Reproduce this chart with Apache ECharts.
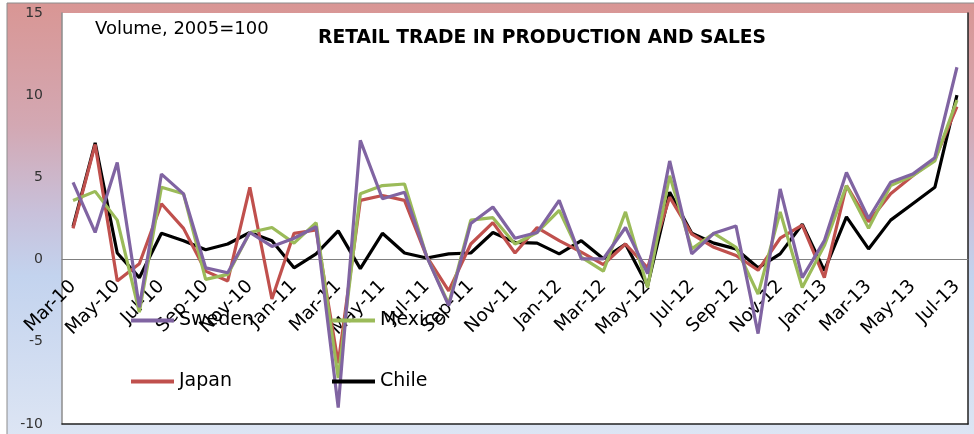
<!DOCTYPE html>
<html>
<head>
<meta charset="utf-8">
<script src="https://cdn.jsdelivr.net/npm/echarts@6/dist/echarts.min.js"></script>
<style>
html,body{margin:0;padding:0;background:#fff;}
#chart{width:974px;height:434px;}
</style>
</head>
<body>
<div id="chart"></div>
<script>
var months = ['Mar-10','Apr-10','May-10','Jun-10','Jul-10','Aug-10','Sep-10','Oct-10','Nov-10','Dec-10',
  'Jan-11','Feb-11','Mar-11','Apr-11','May-11','Jun-11','Jul-11','Aug-11','Sep-11','Oct-11','Nov-11','Dec-11',
  'Jan-12','Feb-12','Mar-12','Apr-12','May-12','Jun-12','Jul-12','Aug-12','Sep-12','Oct-12','Nov-12','Dec-12',
  'Jan-13','Feb-13','Mar-13','Apr-13','May-13','Jun-13','Jul-13'];

var sweden = [4.7,1.65,5.9,-2.9,5.2,4.0,-0.5,-0.8,1.65,0.8,1.3,2.0,-9.0,7.25,3.7,4.1,0.2,-2.8,2.2,3.2,1.3,1.65,3.6,0.05,0.05,1.95,-0.85,6.0,0.35,1.6,2.05,-4.5,4.3,-1.1,1.15,5.3,2.5,4.7,5.2,6.2,11.7];
var mexico = [3.6,4.15,2.4,-3.2,4.4,4.0,-1.2,-0.9,1.65,1.95,1.0,2.25,-7.2,4.0,4.5,4.6,0.2,-2.7,2.4,2.55,0.95,1.65,3.0,0.15,-0.7,2.9,-1.7,5.1,0.65,1.6,0.75,-2.1,2.9,-1.7,0.85,4.5,1.9,4.5,5.1,6.0,9.7];
var japan = [1.9,7.0,-1.3,-0.25,3.4,1.9,-0.7,-1.3,4.4,-2.4,1.6,1.8,-6.3,3.6,3.9,3.6,0.2,-1.9,0.95,2.25,0.4,1.95,1.15,0.45,-0.3,0.95,-0.5,3.8,1.55,0.75,0.25,-0.65,1.3,2.1,-1.1,4.5,2.3,4.0,5.1,6.1,9.3];
var chile = [2.0,7.1,0.4,-1.1,1.6,1.15,0.6,0.95,1.65,1.15,-0.5,0.35,1.75,-0.55,1.6,0.4,0.1,0.35,0.4,1.65,1.05,1.0,0.35,1.15,0.05,0.95,-1.6,4.1,1.6,1.0,0.65,-0.5,0.35,2.15,-0.67,2.6,0.65,2.4,3.4,4.4,10.0];
var yTicks = [-10,-5,0,5,10,15];

var FONT = 'DejaVu Sans';
var GRID = {left: 62, right: 6, top: 13, bottom: 10};
var H = 434 - GRID.top - GRID.bottom;
var yMin = yTicks[0], yMax = yTicks[yTicks.length - 1];
var zeroOffset = -H * (0 - yMin) / (yMax - yMin);

var chart = echarts.init(document.getElementById('chart'));

function legendItem(name, left, top) {
  return {
    data: [name], left: left, top: top, padding: 0,
    icon: 'rect', itemWidth: 43, itemHeight: 4,
    textStyle: {fontFamily: FONT, fontSize: 19, color: '#000'},
    selectedMode: false
  };
}

chart.setOption({
  backgroundColor: '#fff',
  animation: false,
  graphic: [{
    type: 'rect', z: -10, silent: true,
    shape: {x: 7, y: 3, width: 980, height: 440},
    style: {
      fill: {type: 'linear', x: 0, y: 0, x2: 0, y2: 1, colorStops: [
        {offset: 0, color: '#d99694'},
        {offset: 0.28, color: '#d3a8b3'},
        {offset: 0.48, color: '#c8c1db'},
        {offset: 0.62, color: '#c3d3ee'},
        {offset: 1, color: '#dee6f4'}
      ]},
      stroke: '#8c8c8c', lineWidth: 1
    }
  }],
  title: [
    {text: 'RETAIL TRADE IN PRODUCTION AND SALES', left: 318, top: 29, padding: 0,
     textStyle: {fontFamily: FONT, fontSize: 18.7, fontWeight: 'bold', color: '#000'}},
    {text: 'Volume, 2005=100', left: 95, top: 20, padding: 0,
     textStyle: {fontFamily: FONT, fontSize: 18, fontWeight: 'normal', color: '#000'}}
  ],
  legend: [
    legendItem('Sweden', 131, 311),
    legendItem('Mexico', 332, 311),
    legendItem('Japan', 131, 372),
    legendItem('Chile', 332, 372)
  ],
  grid: {left: GRID.left, right: GRID.right, top: GRID.top, bottom: GRID.bottom,
         outerBoundsMode: 'none', containLabel: false,
         show: true, backgroundColor: '#fff', borderWidth: 0},
  xAxis: [{
    type: 'category', data: months, boundaryGap: true, position: 'bottom', offset: zeroOffset,
    axisLine: {onZero: false, lineStyle: {color: '#808080', width: 1}},
    axisTick: {show: false},
    axisLabel: {interval: 1, rotate: 45, margin: 24, fontFamily: FONT, fontSize: 18.5, color: '#000'},
    splitLine: {show: false}
  }, {
    type: 'category', data: months, position: 'bottom', boundaryGap: true,
    axisLine: {onZero: false, lineStyle: {color: '#222', width: 1.5}},
    axisTick: {show: false}, axisLabel: {show: false}, splitLine: {show: false}
  }],
  yAxis: [{
    type: 'value', min: yMin, max: yMax, interval: 5,
    axisLine: {show: true, lineStyle: {color: '#8c8c8c', width: 1.5}},
    axisTick: {show: false},
    axisLabel: {margin: 19, fontFamily: FONT, fontSize: 14, color: '#333'},
    splitLine: {show: false}
  }, {
    type: 'value', position: 'right', min: yMin, max: yMax, interval: 5,
    axisLine: {show: true, lineStyle: {color: '#222', width: 1.5}},
    axisTick: {show: false}, axisLabel: {show: false}, splitLine: {show: false}
  }],
  series: [
    {name: 'Chile', type: 'line', data: chile, symbol: 'none', color: '#000000', lineStyle: {width: 3.2}},
    {name: 'Japan', type: 'line', data: japan, symbol: 'none', color: '#c0504d', lineStyle: {width: 3.2}},
    {name: 'Mexico', type: 'line', data: mexico, symbol: 'none', color: '#9bbb59', lineStyle: {width: 3.2}},
    {name: 'Sweden', type: 'line', data: sweden, symbol: 'none', color: '#8064a2', lineStyle: {width: 3.2}}
  ]
});
</script>
</body>
</html>
